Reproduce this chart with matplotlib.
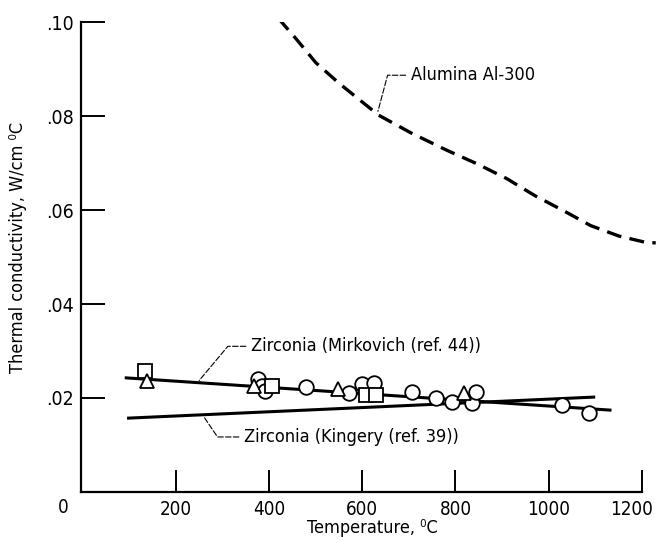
import numpy as np
import matplotlib
matplotlib.use('Agg')
import matplotlib.pyplot as plt
from matplotlib.transforms import ScaledTranslation

plt.rcParams['font.family'] = ['DejaVu Sans']
plt.rcParams['font.stretch'] = 'condensed'

# Alumina AI-300 (dashed curve)
alumina_T = [420, 460, 500, 550, 595, 635, 705, 780, 845, 910, 970, 1035, 1090, 1150, 1205, 1230]
alumina_k = [0.1008, 0.0962, 0.0914, 0.0870, 0.0834, 0.0802, 0.0764, 0.0728, 0.0699,
             0.0667, 0.0631, 0.0597, 0.0567, 0.0545, 0.0532, 0.0530]

# zirconia lines
mirk_T = [90, 1135]
mirk_k = [0.0243, 0.0174]
king_T = [95, 1100]
king_k = [0.0157, 0.0202]

# measured points
circ_T = [377, 385, 392, 480, 572, 600, 625, 707, 758, 792, 835, 844, 1028, 1086]
circ_k = [0.0240, 0.0226, 0.0215, 0.0223, 0.0211, 0.0230, 0.0232, 0.0213, 0.0200,
          0.0191, 0.0189, 0.0213, 0.0185, 0.0168]
sq_T = [133, 407, 608, 630]
sq_k = [0.0257, 0.0226, 0.0206, 0.0206]
tri_T = [137, 368, 548, 818]
tri_k = [0.0236, 0.0226, 0.0219, 0.0211]

xticks = [200, 400, 600, 800, 1000, 1200]
yticks = [0.02, 0.04, 0.06, 0.08, 0.10]
ytick_labels = ['.02', '.04', '.06', '.08', '.10']

fig = plt.figure(figsize=(6.58, 5.40), dpi=100)
ax = fig.add_axes([0.123, 0.089, 0.875, 0.870])

ax.plot(alumina_T, alumina_k, color='black', lw=2.4, dashes=(4.5, 2.5))
ax.plot(mirk_T, mirk_k, color='black', lw=2.2, solid_capstyle='butt')
ax.plot(king_T, king_k, color='black', lw=2.2, solid_capstyle='butt')

mk = dict(linestyle='none', mfc='white', mec='black', mew=1.3)
ax.plot(circ_T, circ_k, marker='o', ms=10.5, **mk)
ax.plot(sq_T, sq_k, marker='s', ms=9.5, **mk)
ax.plot(tri_T, tri_k, marker='^', ms=10, **mk)

lead = dict(arrowstyle='-', lw=0.8, color='black', linestyle=(0, (5, 2)))
t0 = 632
ax.annotate('Alumina Al-300', xy=(t0, np.interp(t0, alumina_T, alumina_k)),
            xytext=(705, 0.0887), ha='left', va='center', fontsize=13,
            arrowprops=dict(connectionstyle='angle,angleA=0,angleB=75,rad=0', **lead))
t1 = 246
ax.annotate('Zirconia (Mirkovich (ref. 44))', xy=(t1, np.interp(t1, mirk_T, mirk_k)),
            xytext=(362, 0.0310), ha='left', va='center', fontsize=13,
            arrowprops=dict(connectionstyle='angle,angleA=0,angleB=50,rad=0', **lead))
t2 = 257
ax.annotate('Zirconia (Kingery (ref. 39))', xy=(t2, np.interp(t2, king_T, king_k)),
            xytext=(347, 0.0117), ha='left', va='center', fontsize=13,
            arrowprops=dict(connectionstyle='angle,angleA=0,angleB=-56,rad=0', **lead))

ax.set_xlim(-4, 1232)
ax.set_ylim(0, 0.1)
for s in ['top', 'right']:
    ax.spines[s].set_visible(False)
ax.spines['left'].set_linewidth(1.6)
ax.spines['bottom'].set_linewidth(1.6)
ax.spines['bottom'].set_bounds(-4, 1200)

ax.set_xticks(xticks)
ax.set_xticklabels([str(v) for v in xticks])
ax.set_yticks(yticks)
ax.set_yticklabels(ytick_labels)
ax.tick_params(axis='x', direction='in', length=16, width=1.4, pad=6, labelsize=13.5)
ax.tick_params(axis='y', direction='in', length=17, width=1.4, pad=5, labelsize=14)
# the last label sits against the right edge of the page
last = ax.get_xticklabels()[-1]
last.set_transform(last.get_transform() + ScaledTranslation(-7 / 72, 0, fig.dpi_scale_trans))
ax.text(-41, -0.0034, '0', ha='center', va='center', fontsize=13.5, clip_on=False)

ax.set_xlabel('Temperature, \u2070C', fontsize=13)
ax.xaxis.set_label_coords(0.507, -0.058)
ax.set_ylabel('Thermal conductivity, W/cm \u2070C', fontsize=13)
ax.yaxis.set_label_coords(-0.094, 0.52)

fig.savefig('out.png', dpi=100)
